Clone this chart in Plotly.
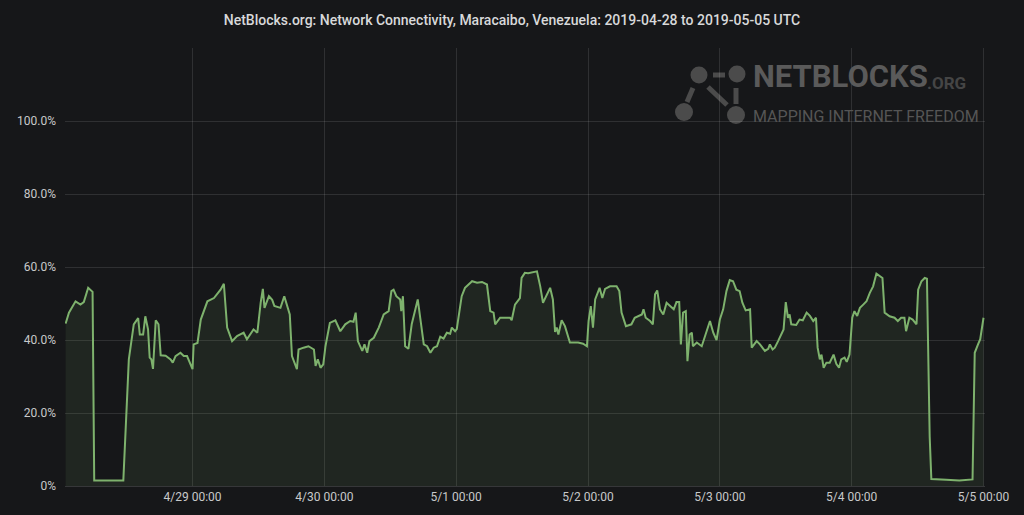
import pandas as pd
import plotly.graph_objects as go

# ---- data (hours since 2019-04-28 00:00 UTC, connectivity %) ----
hours = [0.9, 1.5, 2.7, 3.6, 4.2, 5.0, 5.8, 6.1, 11.4, 12.4,
         13.3, 14.1, 14.4, 15.0, 15.4, 15.9, 16.2, 16.5, 16.8, 17.0,
         17.3, 17.8, 18.2, 19.1, 20.0, 20.4, 20.9, 21.8, 22.4, 23.0,
         24.0, 24.2, 24.9, 25.5, 26.7, 27.9, 29.1, 29.7, 30.3, 31.2,
         32.1, 33.3, 33.9, 35.1, 35.8, 36.4, 36.8, 37.1, 37.9, 38.5,
         38.9, 40.0, 40.7, 41.7, 42.1, 43.0, 43.3, 44.2, 45.1, 46.1,
         46.4, 46.8, 47.3, 47.8, 48.2, 49.0, 50.0, 50.9, 51.8, 52.7,
         53.3, 53.7, 54.1, 54.9, 55.3, 55.8, 56.2, 57.0, 57.9, 58.8,
         59.7, 60.2, 60.6, 61.1, 61.8, 62.0, 62.3, 62.7, 63.3, 63.9,
         65.0, 66.1, 66.7, 67.3, 67.9, 68.5, 69.1, 69.7, 70.3, 70.9,
         71.2, 71.8, 72.1, 73.0, 73.6, 74.9, 75.8, 76.7, 77.6, 78.2,
         78.8, 79.1, 80.0, 81.8, 82.1, 82.7, 83.6, 83.9, 84.5, 85.1,
         85.5, 86.7, 87.3, 87.8, 89.1, 89.6, 90.0, 90.3, 90.6, 91.2,
         91.8, 92.7, 94.2, 95.1, 95.8, 96.1, 96.5, 96.9, 97.3, 98.1,
         98.6, 99.1, 100.0, 101.2, 101.7, 102.1, 102.9, 103.9, 104.5, 105.8,
         106.1, 106.5, 107.3, 107.8, 108.2, 108.6, 109.1, 109.7, 110.3, 110.9,
         111.6, 112.1, 112.6, 112.9, 113.3, 113.8, 114.1, 114.5, 114.9, 115.1,
         115.8, 116.7, 117.3, 118.2, 118.8, 119.4, 120.0, 120.6, 121.2, 121.8,
         122.4, 123.0, 123.6, 124.1, 124.7, 125.5, 125.8, 126.7, 127.3, 128.2,
         128.8, 129.1, 129.6, 130.0, 130.6, 131.2, 131.6, 132.0, 132.4, 132.7,
         133.0, 133.9, 134.5, 135.1, 135.8, 136.4, 137.0, 137.5, 137.8, 138.2,
         138.5, 138.9, 139.4, 140.0, 140.7, 141.2, 141.7, 142.1, 142.7, 143.1,
         143.6, 144.1, 144.5, 145.0, 145.5, 146.1, 146.7, 147.3, 147.9, 148.5,
         149.1, 149.6, 150.0, 150.9, 151.8, 152.4, 153.0, 153.6, 153.9, 154.5,
         155.1, 155.8, 156.1, 156.7, 157.3, 157.7, 158.2, 158.5, 161.2, 163.6,
         166.0, 166.4, 167.0, 167.4, 168.0]

connectivity = [44.5, 47.5, 50.6, 49.7, 50.4, 54.3, 53.2, 1.5, 1.5, 34.7,
                44.3, 46.0, 41.5, 41.5, 46.5, 42.9, 35.2, 34.7, 32.1, 39.3,
                45.4, 44.3, 35.8, 35.7, 34.7, 33.8, 35.6, 36.5, 35.6, 35.6,
                32.0, 38.8, 39.2, 45.6, 50.6, 51.5, 53.8, 55.4, 43.4, 39.7,
                41.1, 42.0, 40.2, 42.9, 42.0, 50.2, 54.0, 48.8, 52.0, 51.0,
                49.3, 48.8, 52.0, 47.0, 35.6, 32.0, 37.4, 37.9, 38.3, 37.4,
                32.9, 34.7, 32.4, 33.3, 38.3, 44.7, 45.4, 42.4, 44.3, 45.2,
                45.0, 47.5, 39.7, 37.0, 38.8, 36.5, 39.7, 40.6, 43.4, 47.0,
                47.9, 53.4, 53.8, 52.0, 51.1, 47.9, 52.0, 38.3, 37.6, 44.3,
                51.1, 38.8, 38.3, 36.5, 37.9, 38.3, 40.9, 40.4, 42.0, 41.7,
                43.4, 42.4, 43.0, 52.0, 54.3, 56.1, 55.7, 55.9, 55.2, 47.9,
                47.5, 44.3, 46.1, 46.1, 45.4, 49.7, 51.5, 57.0, 58.4, 58.3,
                58.4, 58.8, 54.7, 50.2, 54.3, 51.1, 42.2, 43.4, 41.5, 45.4,
                43.8, 39.3, 39.3, 39.0, 38.3, 45.2, 49.3, 43.4, 51.1, 54.3,
                51.5, 54.0, 54.7, 54.7, 53.4, 47.5, 43.8, 44.3, 46.1, 47.0,
                48.4, 46.1, 45.2, 44.3, 52.5, 53.6, 48.4, 47.0, 50.2, 49.3,
                48.4, 50.4, 50.4, 38.8, 47.5, 47.9, 34.2, 41.5, 42.0, 38.3,
                39.3, 38.3, 41.1, 45.2, 42.0, 40.0, 45.6, 48.4, 53.4, 56.4,
                56.1, 53.8, 53.4, 50.2, 48.1, 48.4, 37.9, 39.7, 38.8, 37.0,
                37.6, 38.8, 37.4, 37.9, 39.7, 41.5, 42.9, 50.4, 46.1, 47.0,
                44.3, 44.1, 45.6, 45.4, 47.5, 46.6, 45.2, 46.1, 37.9, 34.7,
                36.0, 32.4, 33.8, 33.8, 36.0, 33.5, 32.4, 34.7, 35.2, 34.0,
                36.0, 46.1, 47.9, 46.6, 48.8, 49.7, 50.6, 52.9, 54.7, 58.2,
                57.5, 57.0, 47.5, 46.5, 46.1, 45.2, 46.1, 46.1, 42.4, 46.1,
                45.6, 44.3, 53.8, 56.1, 57.0, 56.8, 13.5, 1.9, 1.7, 1.5,
                1.8, 36.5, 38.8, 40.2, 46.1]

y_tickvals = [0, 20, 40, 60, 80, 100]
y_ticktext = ["0%", "20.0%", "40.0%", "60.0%", "80.0%", "100.0%"]

title_text = "NetBlocks.org: Network Connectivity, Maracaibo, Venezuela: 2019-04-28 to 2019-05-05 UTC"

# ---- build ----
start = pd.Timestamp("2019-04-28 00:00")
times = start + pd.to_timedelta(hours, unit="h")

BG = "#161719"
LINE = "#7eb26d"
GRID = "rgba(255,255,255,0.11)"
TXT = "#c8c9ca"

fig = go.Figure()
fig.add_trace(go.Scatter(
    x=times, y=connectivity, mode="lines",
    line=dict(color=LINE, width=2),
    fill="tozeroy", fillcolor="rgba(126,178,109,0.10)",
    hoverinfo="x+y", showlegend=False))

W, H = 1024, 515
L, R, T, B = 65, 39, 48, 29
pw, ph = W - L - R, H - T - B


def pxx(x):
    return (x - L) / pw


def pxy(y):
    return (H - B - y) / ph


logo_icon = "#4b4b4b"
shapes = []
for cx, cy, r in [(699, 75, 8.5), (737, 74, 8.5), (684, 112, 9), (736, 115, 9)]:
    shapes.append(dict(type="circle", xref="paper", yref="paper",
                       x0=pxx(cx - r), x1=pxx(cx + r), y0=pxy(cy + r), y1=pxy(cy - r),
                       fillcolor=logo_icon, line=dict(width=0), layer="below"))
for x0, y0, x1, y1 in [(713, 75, 725, 75), (708, 87, 727, 105), (736, 88, 736, 104), (693, 88, 687, 102)]:
    shapes.append(dict(type="line", xref="paper", yref="paper",
                       x0=pxx(x0), x1=pxx(x1), y0=pxy(y0), y1=pxy(y1),
                       line=dict(color=logo_icon, width=5), layer="below"))

narrow = "Roboto, sans-serif"
annotations = [
    dict(text="<b>NETBLOCKS</b>", xref="paper", yref="paper", x=pxx(751), y=pxy(77),
         xanchor="left", yanchor="middle", showarrow=False,
         font=dict(family=narrow, size=31, color="#5a5a5a")),
    dict(text="<b>.ORG</b>", xref="paper", yref="paper", x=pxx(925), y=pxy(83),
         xanchor="left", yanchor="middle", showarrow=False,
         font=dict(family=narrow, size=17, color="#454545")),
    dict(text="MAPPING INTERNET FREEDOM", xref="paper", yref="paper", x=pxx(751), y=pxy(117),
         xanchor="left", yanchor="middle", showarrow=False,
         font=dict(family=narrow, size=16, color="#555555")),
]

fig.update_layout(
    width=W, height=H,
    paper_bgcolor=BG, plot_bgcolor=BG,
    margin=dict(l=L, r=R, t=T, b=B),
    title=dict(text=title_text, x=0.5, xref="container", xanchor="center", y=1 - 20 / H, yanchor="middle",
               font=dict(family="Roboto, sans-serif", size=14, color="#d8d9da", weight=500)),
    font=dict(family="Roboto, sans-serif", size=12, color=TXT),
    xaxis=dict(type="date",
               range=[start + pd.Timedelta(hours=0.78), start + pd.Timedelta(hours=168.27)],
               tick0="2019-04-29", dtick=86400000, tickformat="%-m/%-d %H:%M",
               showgrid=True, gridcolor=GRID, gridwidth=1,
               showline=True, linecolor="rgba(255,255,255,0.14)", linewidth=1,
               zeroline=False, ticks="", tickfont=dict(size=12, color=TXT)),
    yaxis=dict(range=[0, 120], tickvals=y_tickvals, ticktext=y_ticktext,
               showgrid=True, gridcolor=GRID, gridwidth=1, zeroline=False,
               showline=False, ticks="", ticklabelstandoff=8,
               tickfont=dict(size=12, color=TXT)),
    shapes=shapes, annotations=annotations,
)

fig.write_html("out.html", config={"displayModeBar": False},
               post_script="document.body.style.margin='0px';document.body.style.background='#161719';")
